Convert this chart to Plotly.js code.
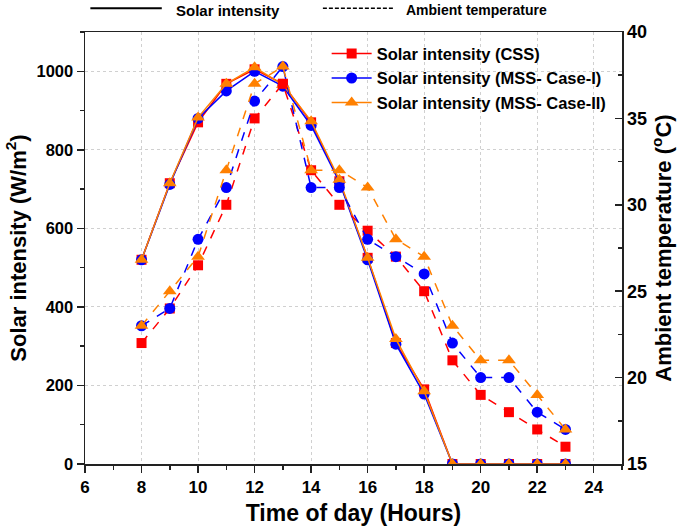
<!DOCTYPE html>
<html>
<head>
<meta charset="utf-8">
<script src="https://cdn.plot.ly/plotly-3.0.1.min.js"></script>
<style>html,body{margin:0;padding:0;background:#fff;}#chart{width:685px;height:532px;}</style>
</head>
<body>
<div id="chart"></div>
<script>
// Data
const hours = [8, 9, 10, 11, 12, 13, 14, 15, 16, 17, 18, 19, 20, 21, 22, 23];

// Solar intensity (W/m2)
const solarCSS    = [520, 715, 870, 968, 1005, 968, 870, 720, 525, 308, 190, 0, 0, 0, 0, 0];
const solarCase1  = [520, 712, 880, 950, 1000, 962, 862, 718, 520, 305, 178, 0, 0, 0, 0, 0];
const solarCase2  = [520, 715, 882, 968, 1010, 966, 873, 724, 525, 318, 185, 0, 0, 0, 0, 0];

// Ambient temperature (°C)
const tempCSS   = [22, 24, 26.5, 30, 35, 37, 32, 30, 28.5, 27, 25, 21, 19, 18, 17, 16];
const tempCase1 = [23, 24, 28, 31, 36, 38, 31, 31, 28, 27, 26, 22, 20, 20, 18, 17];
const tempCase2 = [23, 25, 27, 32, 37, 38, 32, 32, 31, 28, 27, 23, 21, 21, 19, 17];

const names = ['Solar intensity (CSS)', 'Solar intensity (MSS- Case-I)', 'Solar intensity (MSS- Case-II)'];
const topLegend = ['Solar intensity', 'Ambient temperature'];

const colors = ['#FF0000', '#0000FF', '#FF8000'];
const symbols = ['square', 'circle', 'triangle-up'];
const sizes = [10, 11, 12];
const solar = [solarCSS, solarCase1, solarCase2];
const temps = [tempCSS, tempCase1, tempCase2];

const traces = [];
for (let i = 0; i < 3; i++) {
  traces.push({
    x: hours, y: temps[i], yaxis: 'y2', type: 'scatter', mode: 'lines+markers',
    line: {color: colors[i], width: 1.5, dash: 'dash'},
    marker: {color: colors[i], symbol: symbols[i], size: sizes[i]},
    showlegend: false, hoverinfo: 'skip'
  });
}
for (let i = 0; i < 3; i++) {
  traces.push({
    x: hours, y: solar[i], type: 'scatter', mode: 'lines+markers', name: names[i],
    line: {color: colors[i], width: 1.5},
    marker: {color: colors[i], symbol: symbols[i], size: sizes[i]}
  });
}

const font = {family: 'Liberation Sans, Arial, sans-serif', color: '#000', weight: 'bold'};
const f = (s) => Object.assign({}, font, {size: s});

const layout = {
  width: 685, height: 532,
  margin: {l: 85, r: 63, t: 32, b: 68},
  paper_bgcolor: '#fff', plot_bgcolor: '#fff',
  font: f(15),
  showlegend: true,
  legend: {x: 0.45, y: 0.99, xanchor: 'left', yanchor: 'top', bgcolor: 'rgba(0,0,0,0)',
           font: f(16.5), tracegroupgap: 0, itemwidth: 40},
  xaxis: {
    range: [6, 25], dtick: 2, tick0: 6, ticks: 'outside', ticklen: 7, tickwidth: 1.5, tickcolor: '#222',
    showline: true, linecolor: '#222', linewidth: 1.5, mirror: true,
    showgrid: true, gridcolor: '#d0d0d0', griddash: 'dot', gridwidth: 1, zeroline: false,
    minor: {dtick: 1, ticks: 'outside', ticklen: 4, tickcolor: '#222', showgrid: false},
    tickfont: f(17),
    title: {text: 'Time of day (Hours)', font: f(23), standoff: 9}
  },
  yaxis: {
    range: [0, 1100], dtick: 200, ticks: 'outside', ticklen: 7, tickwidth: 1.5, tickcolor: '#222',
    showline: true, linecolor: '#222', linewidth: 1.5,
    showgrid: true, gridcolor: '#d0d0d0', griddash: 'dot', gridwidth: 1, zeroline: false,
    minor: {dtick: 100, ticks: 'outside', ticklen: 4, tickcolor: '#222', showgrid: false},
    tickfont: f(16.5),
    title: {text: 'Solar intensity (W/m<sup>2</sup>)', font: f(22), standoff: 4}
  },
  yaxis2: {
    range: [15, 40], dtick: 5, overlaying: 'y', side: 'right', ticks: 'inside', ticklen: 7, tickwidth: 1.5,
    tickcolor: '#222', showline: true, linecolor: '#222', linewidth: 1.5,
    showgrid: false, zeroline: false,
    minor: {dtick: 2.5, ticks: 'inside', ticklen: 4, tickcolor: '#222', showgrid: false},
    tickfont: f(18),
    title: {text: 'Ambient temperature (<sup>o</sup>C)', font: f(22), standoff: 9}
  },
  shapes: [
    {type: 'line', xref: 'paper', yref: 'paper', x0: 0.01, x1: 0.143, y0: 1.055, y1: 1.055,
     line: {color: '#000', width: 2}},
    {type: 'line', xref: 'paper', yref: 'paper', x0: 0.443, x1: 0.577, y0: 1.055, y1: 1.055,
     line: {color: '#000', width: 1.5, dash: '4px,2px'}}
  ],
  annotations: [
    {xref: 'paper', yref: 'paper', x: 0.165, y: 1.05, xanchor: 'left', yanchor: 'middle',
     text: topLegend[0], showarrow: false, font: f(15)},
    {xref: 'paper', yref: 'paper', x: 0.594, y: 1.05, xanchor: 'left', yanchor: 'middle',
     text: topLegend[1], showarrow: false, font: f(14)}
  ]
};

Plotly.newPlot('chart', traces, layout, {displayModeBar: false, staticPlot: true});
</script>
</body>
</html>
